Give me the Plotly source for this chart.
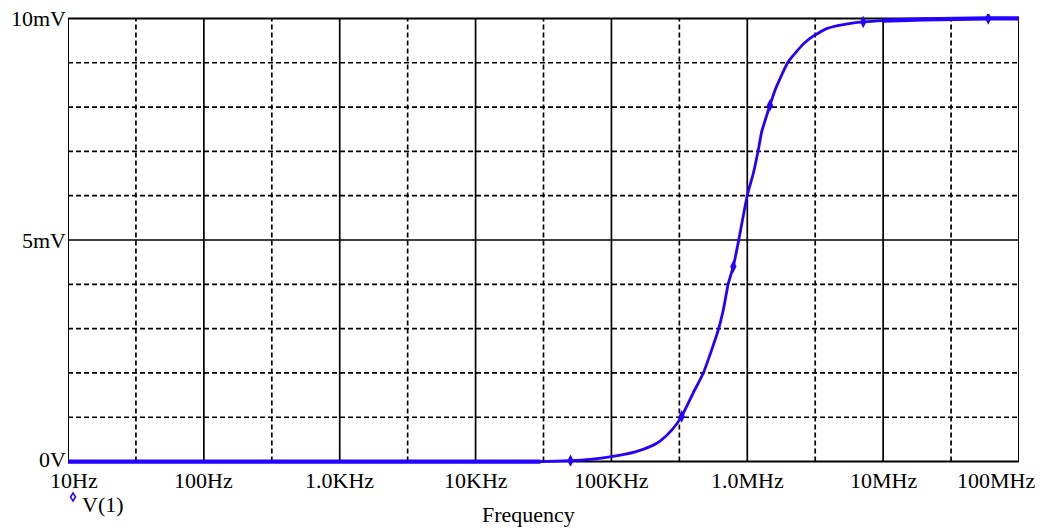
import plotly.graph_objects as go
import numpy as np

# ---- data ----
freq_hz = [10, 100, 1e3, 1e4, 3e4, 5e4, 7e4, 1e5, 1.5e5, 2e5, 2.28e5, 2.8e5, 3.29e5,
           4.0e5, 4.75e5, 5.47e5, 6.12e5, 6.66e5, 7.25e5, 7.89e5, 8.59e5, 1.0e6,
           1.107e6, 1.205e6, 1.276e6, 1.469e6, 1.6e6, 1.69e6, 2.0e6, 2.58e6, 2.98e6,
           3.84e6, 5.09e6, 7.14e6, 1.0e7, 2e7, 5.94e7, 1e8]
v1_mV = [0, 0, 0, 0, 0, 0.02, 0.05, 0.11, 0.22, 0.36, 0.46, 0.72, 1.02,
         1.55, 2.0, 2.52, 2.97, 3.42, 4.02, 4.40, 4.95, 6.01,
         6.50, 7.03, 7.44, 8.04, 8.38, 8.55, 9.02, 9.42, 9.58,
         9.77, 9.86, 9.92, 9.95, 9.98, 10.0, 10.0]
marker_freq = [5e4, 3.29e5, 7.89e5, 1.469e6, 7.14e6, 5.94e7]
marker_mV = [0.02, 1.02, 4.40, 8.04, 9.92, 10.0]

x_tick_vals = [10, 100, 1e3, 1e4, 1e5, 1e6, 1e7, 1e8]
x_tick_text = ["10Hz", "100Hz", "1.0KHz", "10KHz", "100KHz", "1.0MHz", "10MHz", "100MHz"]
y_tick_vals = [0, 5, 10]
y_tick_text = ["0V", "5mV", "10mV"]
y_minor_vals = [1, 2, 3, 4, 6, 7, 8, 9]

series_name = "V(1)"
x_title = "Frequency"

BLUE = "#2400ff"
FONT = "Liberation Serif"
FS = 22

W, H = 1044, 529
ML, MR, MT, MB = 68, 25, 14, 63
PW = W - ML - MR
PH = H - MT - MB
BOTTOM = H - MB

def px_x(p):
    return (p - ML) / PW

def px_y(p):
    return (BOTTOM - p) / PH

fig = go.Figure()

fig.add_trace(go.Scatter(x=freq_hz, y=v1_mV, mode="lines",
                         line=dict(color=BLUE, width=2.8, shape="spline", smoothing=0.5),
                         showlegend=False, hoverinfo="skip"))
# flat parts are drawn heavier in the reference (overlapping points)
fig.add_trace(go.Scatter(x=freq_hz[:5], y=v1_mV[:5], mode="lines",
                         line=dict(color=BLUE, width=4.2), showlegend=False, hoverinfo="skip"))
fig.add_trace(go.Scatter(x=freq_hz[-4:], y=v1_mV[-4:], mode="lines",
                         line=dict(color=BLUE, width=4.2), showlegend=False, hoverinfo="skip"))
fig.add_trace(go.Scatter(x=marker_freq, y=marker_mV, mode="markers",
                         marker=dict(symbol="diamond-tall", size=9, color=BLUE),
                         showlegend=False, hoverinfo="skip"))

shapes = []
lx = np.log10(x_tick_vals)
for i, v in enumerate(x_tick_vals):
    shapes.append(dict(type="line", xref="x", yref="y", x0=v, x1=v, y0=0, y1=10,
                       line=dict(color="black", width=2 if i in (0, len(x_tick_vals) - 1) else 1.7),
                       layer="below"))
for a, b in zip(lx[:-1], lx[1:]):
    m = 10 ** ((a + b) / 2)
    shapes.append(dict(type="line", xref="x", yref="y", x0=m, x1=m, y0=0, y1=10,
                       line=dict(color="black", width=1.7, dash="5px,3px"), layer="below"))
for v in y_tick_vals:
    shapes.append(dict(type="line", xref="x", yref="y", x0=x_tick_vals[0], x1=x_tick_vals[-1],
                       y0=v, y1=v, line=dict(color="black", width=2 if v in (0, 10) else 1.7),
                       layer="below"))
for v in y_minor_vals:
    shapes.append(dict(type="line", xref="x", yref="y", x0=x_tick_vals[0], x1=x_tick_vals[-1],
                       y0=v, y1=v, line=dict(color="black", width=1.7, dash="5px,3px"),
                       layer="below"))

# legend symbol: small hollow diamond
cx, cy = 73, 497
path = "M {} {} L {} {} L {} {} L {} {} Z".format(
    px_x(cx), px_y(cy - 4), px_x(cx + 2.5), px_y(cy), px_x(cx), px_y(cy + 4), px_x(cx - 2.5), px_y(cy))
shapes.append(dict(type="path", xref="paper", yref="paper", path=path,
                   line=dict(color=BLUE, width=1.5)))

ann = []
for i, (v, t) in enumerate(zip(x_tick_vals, x_tick_text)):
    shift = 0
    if i == 0:
        shift = 6
    elif i == len(x_tick_vals) - 1:
        shift = -23
    ann.append(dict(x=np.log10(v), xref="x", y=px_y(480), yref="paper", text=t,
                    showarrow=False, xanchor="center", yanchor="middle", xshift=shift,
                    font=dict(family=FONT, size=FS, color="black")))
for v, t in zip(y_tick_vals, y_tick_text):
    ann.append(dict(x=0, xref="paper", y=v, yref="y", text=t, showarrow=False,
                    xanchor="right", yanchor="middle", xshift=0, yshift=(2 if v == 0 else 0),
                    font=dict(family=FONT, size=FS, color="black")))
ann.append(dict(x=px_x(528), xref="paper", y=px_y(514), yref="paper", text=x_title,
                showarrow=False, xanchor="center", yanchor="middle",
                font=dict(family=FONT, size=FS, color="black")))
ann.append(dict(x=px_x(80), xref="paper", y=px_y(504), yref="paper", text=series_name,
                showarrow=False, xanchor="left", yanchor="middle",
                font=dict(family=FONT, size=FS, color="black")))

fig.update_layout(
    width=W, height=H,
    margin=dict(l=ML, r=MR, t=MT, b=MB, pad=0),
    paper_bgcolor="white", plot_bgcolor="white",
    shapes=shapes, annotations=ann,
    xaxis=dict(type="log", range=[1, 8], showgrid=False, zeroline=False,
               showticklabels=False, ticks="", showline=False),
    yaxis=dict(range=[-0.1, 10.1], showgrid=False, zeroline=False,
               showticklabels=False, ticks="", showline=False),
)

fig.write_html("out.html")
